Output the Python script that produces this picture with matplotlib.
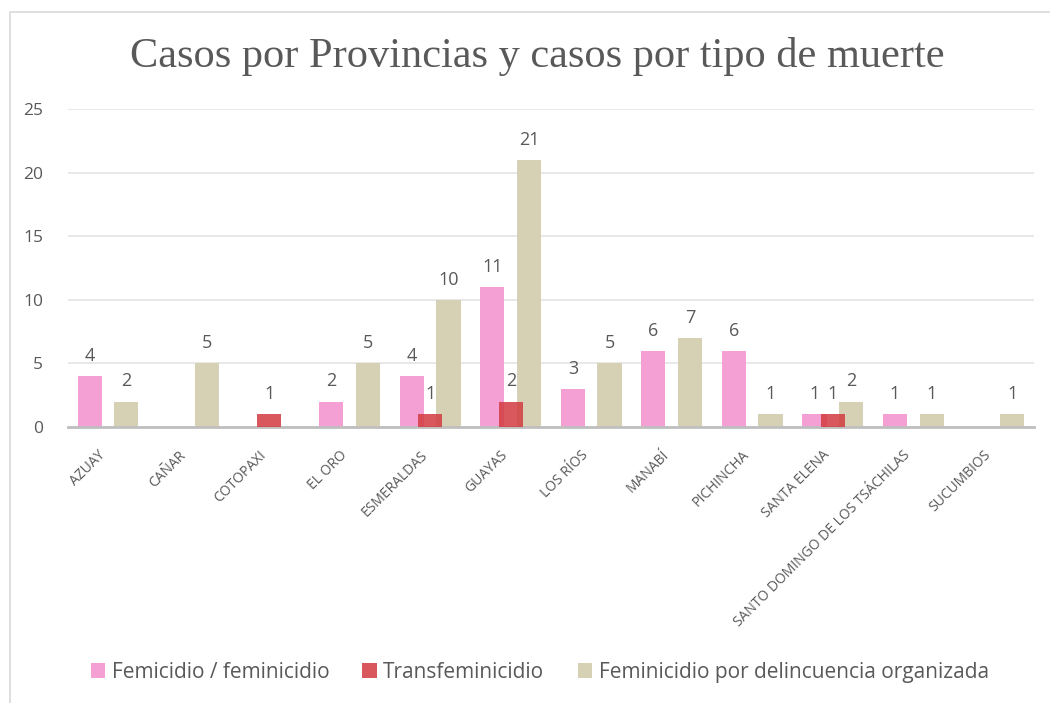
import numpy as np
import matplotlib
matplotlib.use("Agg")
from matplotlib import pyplot as plt
from matplotlib.patches import Rectangle

provincias = ["AZUAY", "CAÑAR", "COTOPAXI", "EL ORO", "ESMERALDAS", "GUAYAS",
              "LOS RÍOS", "MANABÍ", "PICHINCHA", "SANTA ELENA",
              "SANTO DOMINGO DE LOS TSÁCHILAS", "SUCUMBIOS"]
femicidio = [4, 0, 0, 2, 4, 11, 3, 6, 6, 1, 1, 0]
transfeminicidio = [0, 0, 1, 0, 1, 2, 0, 0, 0, 1, 0, 0]
organizada = [2, 5, 0, 5, 10, 21, 5, 7, 1, 2, 1, 1]
series_names = ["Femicidio / feminicidio", "Transfeminicidio",
                "Feminicidio por delincuencia organizada"]

gray = "#595959"
plt.rcParams["font.family"] = ["Open Sans", "DejaVu Sans"]

fig = plt.figure(figsize=(10.5, 7.03), dpi=100)
ax = fig.add_axes([0.0648, 0.3926, 0.9202, 0.4523])

x = np.arange(len(provincias))
w = 0.30
b1 = ax.bar(x - 0.23, femicidio, w, color="#F4A0D4", label=series_names[0], zorder=2)
b3 = ax.bar(x + 0.225, organizada, w, color="#D6D0B5", label=series_names[2], zorder=2)
b2 = ax.bar(x, transfeminicidio, w, color="#D23B40", alpha=0.85, label=series_names[1], zorder=3)

for bars, vals in [(b1, femicidio), (b3, organizada), (b2, transfeminicidio)]:
    for rect, v in zip(bars, vals):
        if v > 0:
            ax.annotate(str(v), (rect.get_x() + rect.get_width() / 2, v),
                        xytext=(0, 8), textcoords="offset points",
                        ha="center", va="bottom", fontsize=13, color=gray, zorder=5)

ax.set_xlim(-0.5, len(provincias) - 0.5)
ax.set_ylim(0, 25)
ax.set_yticks(range(0, 26, 5))
ax.yaxis.grid(True, color="#E4E4E4", linewidth=1.2, zorder=0)
ax.set_axisbelow(True)
for s in ["top", "right", "left"]:
    ax.spines[s].set_visible(False)
ax.spines["bottom"].set_color("#BFBFBF")
ax.spines["bottom"].set_linewidth(2)
ax.tick_params(axis="both", length=0, colors=gray)
ax.tick_params(axis="y", labelsize=12.5, pad=18)
ax.set_xticks(x)
ax.set_xticklabels(provincias, rotation=45, ha="right", fontsize=10, color=gray)
ax.tick_params(axis="x", pad=15)

fig.text(0.512, 0.919, "Casos por Provincias y casos por tipo de muerte",
         ha="center", va="center", fontsize=30.5, color=gray,
         family=["Liberation Serif", "DejaVu Serif"])

handles = [b1, b2, b3]
fig.legend(handles, series_names, loc="center", bbox_to_anchor=(0.514, 0.044),
           ncol=3, frameon=False, fontsize=15, labelcolor=gray,
           handlelength=0.7, handleheight=0.7, handletextpad=0.3, columnspacing=1.6)

fig.patches.append(Rectangle((10 / 1050, -0.1), 1.2, 0.1 + 1 - 12 / 703,
                             transform=fig.transFigure, fill=False,
                             edgecolor="#D9D9D9", linewidth=1.2))

fig.savefig("out.png", dpi=100, facecolor="white")
